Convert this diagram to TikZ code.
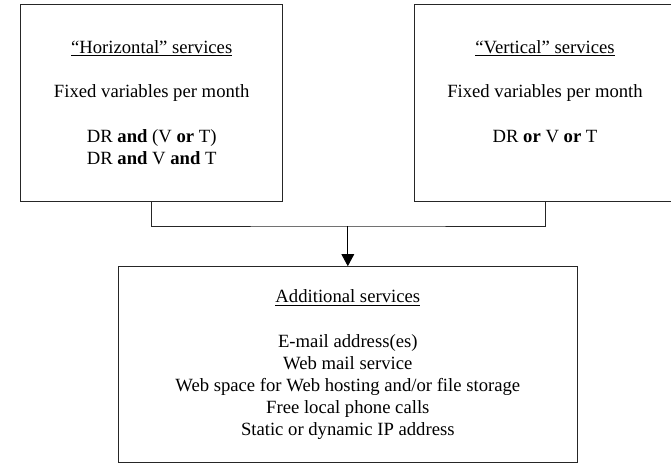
\documentclass[tikz,border=0pt]{standalone}
\usepackage{fontspec}
\setmainfont{Liberation Serif}
\usetikzlibrary{arrows.meta,positioning,calc}

\begin{document}
\begin{tikzpicture}[
    x=0.75pt, y=-0.75pt,
    svc/.style={draw=black!85, line width=0.75pt, align=center, inner sep=0pt,
        font=\fontsize{14}{16.5}\selectfont},
    wire/.style={draw=black!85, line width=0.75pt},
    arr/.style={-{Triangle[length=9pt, width=9.5pt]}, line width=0.75pt}
]
\useasboundingbox (0,0) rectangle (671,465);

\node[svc, minimum width=196.5pt, minimum height=147.75pt] (hz) at (151.7,102.5)
    {\underline{“Horizontal” services}\\[17pt]
     Fixed variables per month\\[17pt]
     DR \textbf{and} (V \textbf{or} T)\\
     DR \textbf{and} V \textbf{and} T};
\node[svc, minimum width=196.5pt, minimum height=147.75pt] (vt) at (545,102.5)
    {\underline{“Vertical” services}\\[17pt]
     Fixed variables per month\\[17pt]
     DR \textbf{or} V \textbf{or} T\\
     ~};
\node[svc, minimum width=344.25pt, minimum height=147pt] (add) at (347.8,364.7)
    {\underline{Additional services}\\[17pt]
     E-mail address(es)\\
     Web mail service\\
     Web space for Web hosting and/or file storage\\
     Free local phone calls\\
     Static or dynamic IP address};

\coordinate (bar) at (add.north |- 0,226);
\draw[wire] (hz.south) |- (bar) -| (vt.south);
\draw[arr] (bar) -- (add.north);
\end{tikzpicture}
\end{document}
